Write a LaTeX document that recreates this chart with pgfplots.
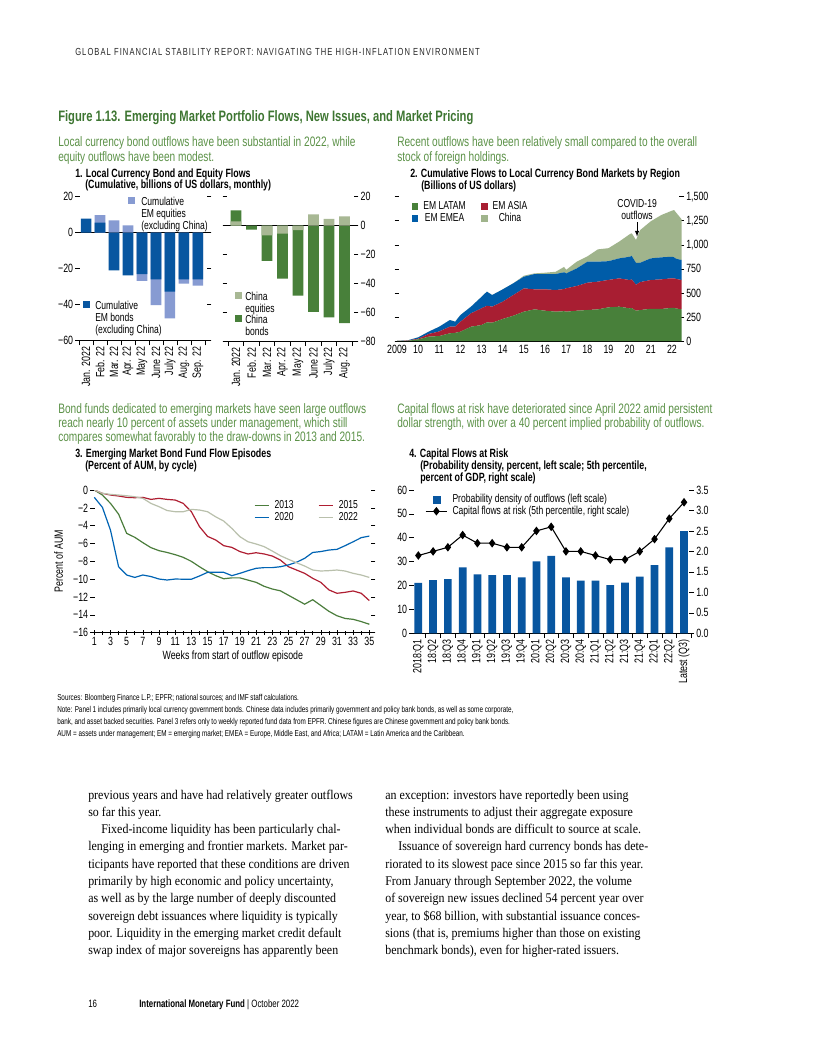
\documentclass[border=0pt]{standalone}
\usepackage{fontspec}
\setmainfont{Liberation Sans}[FakeStretch=0.74]
\newfontfamily\seriffont{Liberation Serif}[FakeStretch=0.9]
\newfontfamily\hdrfont{Liberation Sans}[FakeStretch=0.74,LetterSpace=10.5]
\usepackage{pgfplots}
\pgfplotsset{compat=1.18}

\definecolor{imfgreen}{RGB}{62,118,50}
\definecolor{subgreen}{RGB}{92,146,72}
\definecolor{bondblue}{RGB}{8,86,160}
\definecolor{eqblue}{RGB}{135,155,210}
\definecolor{bondgreen}{RGB}{72,128,58}
\definecolor{eqgreen}{RGB}{168,184,148}
\definecolor{latam}{RGB}{72,128,58}
\definecolor{asia}{RGB}{168,30,50}
\definecolor{emea}{RGB}{0,92,168}
\definecolor{china}{RGB}{160,180,140}
\definecolor{c2013}{RGB}{75,125,60}
\definecolor{c2015}{RGB}{175,30,50}
\definecolor{c2020}{RGB}{0,100,180}
\definecolor{c2022}{RGB}{185,192,172}

\pgfplotsset{
  panel/.style={
    scale only axis, axis line style={draw=none},
    tick style={black, line width=0.45pt},
    major tick length=3.5bp, minor tick length=3bp,
    tick align=center,
    ticklabel style={font=\fontsize{9}{10}\selectfont, inner sep=1.5bp},
    /pgf/number format/assume math mode=true,
    ytick pos=both, xtick pos=bottom,
    major grid style={black, line width=0.5pt},
    extra y tick labels={},
    extra y tick style={grid=major},
  },
  catticks/.style={
    xticklabels={}, extra x tick labels={#1},
    extra x tick style={major tick length=0pt, tick style={draw=none},
      xticklabel style={yshift=-3bp, rotate=90, anchor=east}},
  },
  legfont/.style={font=\fontsize{8.7}{9}\selectfont, draw=none, fill=none,
    nodes={inner sep=1.2bp},
    /tikz/every odd column/.append style={column sep=2.5bp}},
}

\begin{document}
\begin{tikzpicture}[x=0.75bp,y=-0.75bp,
  hdr/.style={anchor=base west, inner sep=0pt, yshift=-2.8bp, font=\hdrfont\fontsize{7.7}{8}\selectfont, text=black!85},
  ftitle/.style={anchor=base west, inner sep=0pt, yshift=-4.1bp, font=\bfseries\fontsize{11.4}{12}\selectfont, text=imfgreen},
  sub/.style={anchor=base west, inner sep=0pt, yshift=-3.7bp, font=\fontsize{10.3}{11}\selectfont, text=subgreen},
  ptitle/.style={anchor=base west, inner sep=0pt, yshift=-3.2bp, font=\bfseries\fontsize{9}{10}\selectfont},
  leg/.style={anchor=base west, inner sep=0pt, yshift=-3.1bp, font=\fontsize{8.7}{9}\selectfont},
  note/.style={anchor=base west, inner sep=0pt, yshift=-2.3bp, font=\fontsize{6.45}{7}\selectfont},
  body/.style={anchor=base west, inner sep=0pt, font=\seriffont\fontsize{10}{12}\selectfont},
]
\fill[white] (0,0) rectangle (816,1056);

\node[hdr] at (75,52) {GLOBAL FINANCIAL STABILITY REPORT: NAVIGATING THE HIGH-INFLATION ENVIRONMENT};
\node[ftitle] at (58,116) {Figure 1.13. Emerging Market Portfolio Flows, New Issues, and Market Pricing};

% panel texts
\node[sub] at (58,142) {Local currency bond outflows have been substantial in 2022, while};
\node[sub] at (58,157) {equity outflows have been modest.};
\node[ptitle] at (75,173) {1. Local Currency Bond and Equity Flows};
\node[ptitle] at (85,184) {(Cumulative, billions of US dollars, monthly)};

\node[sub] at (397,142) {Recent outflows have been relatively small compared to the overall};
\node[sub] at (397,157) {stock of foreign holdings.};
\node[ptitle] at (410,173) {2. Cumulative Flows to Local Currency Bond Markets by Region};
\node[ptitle] at (421,185) {(Billions of US dollars)};

\node[sub] at (58,409) {Bond funds dedicated to emerging markets have seen large outflows};
\node[sub] at (58,423) {reach nearly 10 percent of assets under management, which still};
\node[sub] at (58,437) {compares somewhat favorably to the draw-downs in 2013 and 2015.};
\node[ptitle] at (75,453) {3. Emerging Market Bond Fund Flow Episodes};
\node[ptitle] at (85,465) {(Percent of AUM, by cycle)};

\node[sub] at (397,409) {Capital flows at risk have deteriorated since April 2022 amid persistent};
\node[sub] at (397,423) {dollar strength, with over a 40 percent implied probability of outflows.};
\node[ptitle] at (409,453) {4. Capital Flows at Risk};
\node[ptitle] at (420,465) {(Probability density, percent, left scale; 5th percentile,};
\node[ptitle] at (420,477) {percent of GDP, right scale)};

% ---- panel 1, left: EM excluding China
\begin{axis}[panel, at={(58.275bp,-255.525bp)}, anchor=south west, width=98.5bp, height=108bp,
  xmin=-0.6, xmax=8.8, ymin=-60, ymax=20,
  ytick={-60,-40,-20,0,20}, yticklabels={−60,−40,−20,0,20},
  xtick={-0.5,0.5,...,8.5}, extra x ticks={0,...,8},
  catticks={Jan. 2022,Feb. 22,Mar. 22,Apr. 22,May 22,June 22,July 22,Aug. 22,Sep. 22},
  extra y ticks={-60,0},
  ybar, bar width=8bp, bar shift=0pt]
\addplot[fill=eqblue, draw=none] coordinates {(0,0) (1,9.8) (2,6.9) (3,4.1) (4,-26.7) (5,-40.2) (6,-47.6) (7,-28.3) (8,-29.4)};
\addplot[fill=bondblue, draw=none] coordinates {(0,7.8) (1,5.6) (2,-20.9) (3,-23.7) (4,-23.0) (5,-25.9) (6,-32.8) (7,-25.9) (8,-25.9)};
\end{axis}

% ---- panel 1, right: China
\begin{axis}[panel, at={(168.75bp,-255.75bp)}, anchor=south west, width=98.25bp, height=108.2bp,
  xmin=-0.71, xmax=7.74, ymin=-80, ymax=20,
  ytick={-80,-60,-40,-20,0,20}, yticklabels={−80,−60,−40,−20,0,20},
  yticklabel pos=right,
  xtick={-0.5,0.5,...,7.5}, extra x ticks={0,...,7},
  catticks={Jan. 2022,Feb. 22,Mar. 22,Apr. 22,May 22,June 22,July 22,Aug. 22},
  extra y ticks={-80,0},
  ybar, bar width=8bp, bar shift=0pt]
\addplot[fill=bondgreen, draw=none] coordinates {(0,10.6) (1,-2.8) (2,-24.4) (3,-36.8) (4,-48.5) (5,-59.8) (6,-63.7) (7,-67.6)};
\addplot[fill=eqgreen, draw=none] coordinates {(0,3.0) (1,0) (2,-6.7) (3,-5.5) (4,-3.2) (5,7.8) (6,4.6) (7,6.4)};
\end{axis}

% panel 1 legends
\fill[eqblue] (127.5,197.5) rectangle (134.5,204.5);
\node[leg] at (141,201) {Cumulative};
\node[leg] at (141,213) {EM equities};
\node[leg] at (141,225) {(excluding China)};
\fill[bondblue] (82.5,301.5) rectangle (89.5,308.5);
\node[leg] at (95,305) {Cumulative};
\node[leg] at (95,317) {EM bonds};
\node[leg] at (95,329) {(excluding China)};
\fill[eqgreen] (234.5,292.5) rectangle (241.5,299.5);
\node[leg] at (245,296) {China};
\node[leg] at (245,308) {equities};
\fill[bondgreen] (234.5,315.5) rectangle (241.5,322.5);
\node[leg] at (245,319) {China};
\node[leg] at (245,331) {bonds};

% ---- panel 2: stacked flows by region
\begin{axis}[panel, at={(297.75bp,-255.75bp)}, anchor=south west, width=213.5bp, height=108.2bp,
  xmin=2009, xmax=2022.46, ymin=0, ymax=1500,
  ytick={0,250,...,1500}, yticklabels={0,250,500,750,{1,000},{1,250},{1,500}},
  yticklabel pos=right,
  xtick={2009,...,2022}, xticklabels={2009,10,11,12,13,14,15,16,17,18,19,20,21,22},
  xtick style={draw=none},
  extra y ticks={0},
  stack plots=y,
  legend columns=2,
  legend style={legfont, at={(0.036,0.998)}, anchor=north west, row sep=-1bp,
    /tikz/every even column/.append style={column sep=10bp}},
  legend image code/.code={\fill[#1] (0bp,-2.6bp) rectangle (5.2bp,2.6bp);},
  ]
\addplot[fill=latam, draw=none] coordinates {
(2009,0) (2009.5,2) (2010,17) (2010.5,45) (2011,52) (2011.5,80) (2011.75,85) (2012,97)
(2012.5,149) (2013,166) (2013.25,194) (2013.5,190) (2014,229) (2014.5,263) (2015,305)
(2015.5,329) (2016,315) (2016.5,305) (2016.9,310) (2017,305) (2017.5,315) (2018,322)
(2018.5,329) (2019,350) (2019.5,357) (2020,340) (2020.1,342) (2020.3,315) (2020.5,322)
(2021,335) (2021.5,333) (2022,345) (2022.1,345) (2022.2,338) (2022.46,329)} \closedcycle;
\addlegendentry{EM LATAM}
\addplot[fill=asia, draw=none] coordinates {
(2009,0) (2009.5,2) (2010,7) (2010.5,28) (2011,48) (2011.5,69) (2011.75,65) (2012,104)
(2012.5,139) (2013,174) (2013.25,173) (2013.5,167) (2014,180) (2014.5,215) (2015,242)
(2015.5,208) (2016,222) (2016.5,225) (2016.9,230) (2017,243) (2017.5,257) (2018,284)
(2018.5,288) (2019,285) (2019.5,294) (2020,294) (2020.1,298) (2020.3,270) (2020.5,291)
(2021,299) (2021.5,308) (2022,307) (2022.1,307) (2022.2,307) (2022.46,305)} \closedcycle;
\addlegendentry{EM ASIA}
\addplot[fill=emea, draw=none] coordinates {
(2009,0) (2009.5,2) (2010,14) (2010.5,24) (2011,49) (2011.5,69) (2011.75,51) (2012,69)
(2012.5,69) (2013,120) (2013.25,146) (2013.5,121) (2014,128) (2014.5,122) (2015,122)
(2015.5,159) (2016,159) (2016.5,166) (2016.9,175) (2017,155) (2017.5,183) (2018,218)
(2018.5,208) (2019,195) (2019.5,208) (2020,242) (2020.1,245) (2020.3,227) (2020.5,201)
(2021,225) (2021.5,229) (2022,224) (2022.1,218) (2022.2,210) (2022.46,208)} \closedcycle;
\addlegendentry{EM EMEA}
\addplot[fill=china, draw=none] coordinates {
(2009,0) (2009.5,0) (2010,0) (2010.5,0) (2011,0) (2011.5,0) (2011.75,0) (2012,0)
(2012.5,0) (2013,0) (2013.25,0) (2013.5,0) (2014,0) (2014.5,0) (2015,10)
(2015.5,7) (2016,14) (2016.5,24) (2016.9,55) (2017,37) (2017.5,70) (2018,56)
(2018.5,128) (2019,135) (2019.5,174) (2020,234) (2020.1,235) (2020.3,238) (2020.5,340)
(2021,386) (2021.5,440) (2022,479) (2022.1,492) (2022.2,479) (2022.46,423)} \closedcycle;
\addlegendentry{China}
\node[anchor=base, inner sep=0pt, font=\fontsize{8.7}{9}\selectfont, yshift=-3.1bp] at (axis cs:2020.35,1434) {COVID-19};
\node[anchor=base, inner sep=0pt, font=\fontsize{8.7}{9}\selectfont, yshift=-3.1bp] at (axis cs:2020.35,1310) {outflows};
\draw[-latex, black, line width=0.5pt] (axis cs:2020.35,1235) -- (axis cs:2020.35,1085);
\end{axis}

% ---- panel 3: bond fund flow episodes
\begin{axis}[panel, at={(69.525bp,-474.525bp)}, anchor=south west, width=210.2bp, height=107bp,
  xmin=0.8, xmax=35.45, ymin=-16, ymax=0,
  ytick={-16,-14,...,0}, yticklabels={−16,−14,−12,−10,−8,−6,−4,−2,0},
  xtick={1,3,...,35}, minor xtick={2,4,...,34},
  extra y ticks={-16},
  xlabel={Weeks from start of outflow episode},
  ylabel={Percent of AUM},
  label style={font=\fontsize{9}{10}\selectfont},
  xlabel style={yshift=1.5bp},
  ylabel style={yshift=-1bp},
  legend columns=2,
  legend style={legfont, at={(0.56,0.958)}, anchor=north west, row sep=-1bp,
    /tikz/every even column/.append style={column sep=17bp}},
  legend image code/.code={\draw[#1] (0bp,0bp) -- (11bp,0bp);},
  every axis plot/.append style={line width=0.9bp, mark=none},
  ]
\addplot[c2013] coordinates {(1,0) (2,-0.56) (3,-1.5) (4,-2.7) (5,-4.86) (6,-5.3) (7,-5.9) (8,-6.46) (9,-6.8) (10,-7.0) (11,-7.25) (12,-7.55) (13,-8.0) (14,-8.6) (15,-9.15) (16,-9.6) (17,-9.95) (18,-9.85) (19,-9.85) (20,-10.1) (21,-10.35) (22,-10.8) (23,-11.1) (24,-11.3) (25,-11.8) (26,-12.3) (27,-12.8) (28,-12.3) (29,-12.95) (30,-13.6) (31,-14.1) (32,-14.4) (33,-14.5) (34,-14.75) (35,-15.05)};
\addlegendentry{2013}
\addplot[c2015] coordinates {(1,0) (2,-0.37) (3,-0.56) (4,-0.67) (5,-0.82) (6,-0.86) (7,-0.82) (8,-1.05) (9,-0.93) (10,-1.05) (11,-1.12) (12,-1.5) (13,-2.43) (14,-4.1) (15,-5.2) (16,-5.6) (17,-6.24) (18,-6.43) (19,-6.9) (20,-7.17) (21,-7.03) (22,-7.17) (23,-7.4) (24,-7.85) (25,-8.6) (26,-8.97) (27,-9.34) (28,-9.9) (29,-10.35) (30,-11.2) (31,-11.58) (32,-11.47) (33,-11.32) (34,-11.58) (35,-12.4)};
\addlegendentry{2015}
\addplot[c2020] coordinates {(1,-0.82) (2,-1.94) (3,-4.5) (4,-8.6) (5,-9.53) (6,-9.8) (7,-9.53) (8,-9.7) (9,-9.98) (10,-10.09) (11,-9.98) (12,-10.0) (13,-10.0) (14,-9.64) (15,-9.23) (16,-9.23) (17,-9.23) (18,-9.6) (19,-9.34) (20,-9.04) (21,-8.78) (22,-8.7) (23,-8.7) (24,-8.6) (25,-8.4) (26,-8.1) (27,-7.66) (28,-7.0) (29,-6.9) (30,-6.73) (31,-6.65) (32,-6.24) (33,-5.8) (34,-5.34) (35,-5.16)};
\addlegendentry{2020}
\addplot[c2022] coordinates {(1,0) (2,-0.37) (3,-0.49) (4,-0.56) (5,-0.64) (6,-0.75) (7,-0.93) (8,-1.5) (9,-1.87) (10,-2.3) (11,-2.43) (12,-2.43) (13,-2.17) (14,-2.24) (15,-2.43) (16,-3.0) (17,-3.48) (18,-4.3) (19,-5.23) (20,-5.8) (21,-6.05) (22,-6.35) (23,-6.84) (24,-7.36) (25,-7.77) (26,-8.15) (27,-8.52) (28,-8.97) (29,-9.08) (30,-9.04) (31,-8.97) (32,-9.08) (33,-9.34) (34,-9.53) (35,-9.8)};
\addlegendentry{2022}
\end{axis}

% ---- panel 4: capital flows at risk, bars (left scale)
\begin{axis}[panel, at={(308.775bp,-474.975bp)}, anchor=south west, width=210bp, height=107.5bp,
  xmin=-0.45, xmax=18.52, ymin=0, ymax=60,
  ytick={0,10,...,60}, ytick pos=left,
  xtick={-0.5,0.5,...,18.5}, extra x ticks={0,...,18},
  catticks={2018:Q1,18:Q2,18:Q3,18:Q4,19:Q1,19:Q2,19:Q3,19:Q4,20:Q1,20:Q2,20:Q3,20:Q4,21:Q1,21:Q2,21:Q3,21:Q4,22:Q1,22:Q2,Latest (Q3)},
  extra y ticks={0},
  ybar, bar width=5.8bp, bar shift=0pt]
\addplot[fill=bondblue, draw=none] coordinates {(0,21.1) (1,22.3) (2,22.7) (3,27.6) (4,24.7) (5,24.4) (6,24.4) (7,23.4) (8,30.1) (9,32.4) (10,23.4) (11,22.1) (12,22.1) (13,20.2) (14,21.2) (15,23.7) (16,28.5) (17,36.0) (18,42.8)};
\end{axis}

% ---- panel 4: line (right scale)
\begin{axis}[panel, at={(308.775bp,-474.975bp)}, anchor=south west, width=210bp, height=107.5bp,
  xmin=-0.45, xmax=18.52, ymin=0, ymax=3.5,
  ytick={0,0.5,...,3.5}, yticklabels={0.0,0.5,1.0,1.5,2.0,2.5,3.0,3.5},
  ytick pos=right, yticklabel pos=right,
  xtick=\empty,
  legend style={legfont, at={(0.033,1.0)}, anchor=north west, row sep=-1.5bp},
  legend cell align=left,
  ]
\addlegendimage{legend image code/.code={\fill[bondblue] (5.5bp,-2.6bp) rectangle (10.7bp,2.6bp);}}
\addlegendentry{Probability density of outflows (left scale)}
\addplot[black, line width=0.8bp, mark=diamond*, mark size=2.6bp,
  legend image code/.code={\draw[black, line width=0.8bp] (0bp,0bp) -- (16bp,0bp); \fill[black] (8bp,2.6bp) -- (10bp,0bp) -- (8bp,-2.6bp) -- (6bp,0bp) -- cycle;}]
  coordinates {(0,1.9) (1,2.0) (2,2.1) (3,2.4) (4,2.2) (5,2.2) (6,2.1) (7,2.1) (8,2.5) (9,2.6) (10,2.0) (11,2.0) (12,1.9) (13,1.8) (14,1.8) (15,2.0) (16,2.3) (17,2.8) (18,3.2)};
\addlegendentry{Capital flows at risk (5th percentile, right scale)}
\end{axis}

% notes
\node[note] at (57,697) {Sources: Bloomberg Finance L.P.; EPFR; national sources; and IMF staff calculations.};
\node[note] at (57,709) {Note: Panel 1 includes primarily local currency government bonds. Chinese data includes primarily government and policy bank bonds, as well as some corporate,};
\node[note] at (57,721) {bank, and asset backed securities. Panel 3 refers only to weekly reported fund data from EPFR. Chinese figures are Chinese government and policy bank bonds.};
\node[note] at (57,733) {AUM = assets under management; EM = emerging market; EMEA = Europe, Middle East, and Africa; LATAM = Latin America and the Caribbean.};

% body text
\node[body] at (88,799) {previous years and have had relatively greater outflows};
\node[body] at (88,816.3) {so far this year.};
\node[body] at (101,833.6) {Fixed-income liquidity has been particularly chal-};
\node[body] at (88,850.9) {lenging in emerging and frontier markets. Market par-};
\node[body] at (88,868.2) {ticipants have reported that these conditions are driven};
\node[body] at (88,885.5) {primarily by high economic and policy uncertainty,};
\node[body] at (88,902.8) {as well as by the large number of deeply discounted};
\node[body] at (88,920.1) {sovereign debt issuances where liquidity is typically};
\node[body] at (88,937.4) {poor. Liquidity in the emerging market credit default};
\node[body] at (88,954.7) {swap index of major sovereigns has apparently been};

\node[body] at (385,799) {an exception: investors have reportedly been using};
\node[body] at (385,816.3) {these instruments to adjust their aggregate exposure};
\node[body] at (385,833.6) {when individual bonds are difficult to source at scale.};
\node[body] at (398,850.9) {Issuance of sovereign hard currency bonds has dete-};
\node[body] at (385,868.2) {riorated to its slowest pace since 2015 so far this year.};
\node[body] at (385,885.5) {From January through September 2022, the volume};
\node[body] at (385,902.8) {of sovereign new issues declined 54 percent year over};
\node[body] at (385,920.1) {year, to \$68 billion, with substantial issuance conces-};
\node[body] at (385,937.4) {sions (that is, premiums higher than those on existing};
\node[body] at (385,954.7) {benchmark bonds), even for higher-rated issuers.};

% footer
\node[anchor=base west, inner sep=0pt, font=\fontsize{8}{9}\selectfont, yshift=-2.9bp] at (88,1004) {16};
\node[anchor=base west, inner sep=0pt, font=\fontsize{8}{9}\selectfont, yshift=-2.9bp] at (139,1004) {\textbf{International Monetary Fund} | October 2022};
\end{tikzpicture}
\end{document}
